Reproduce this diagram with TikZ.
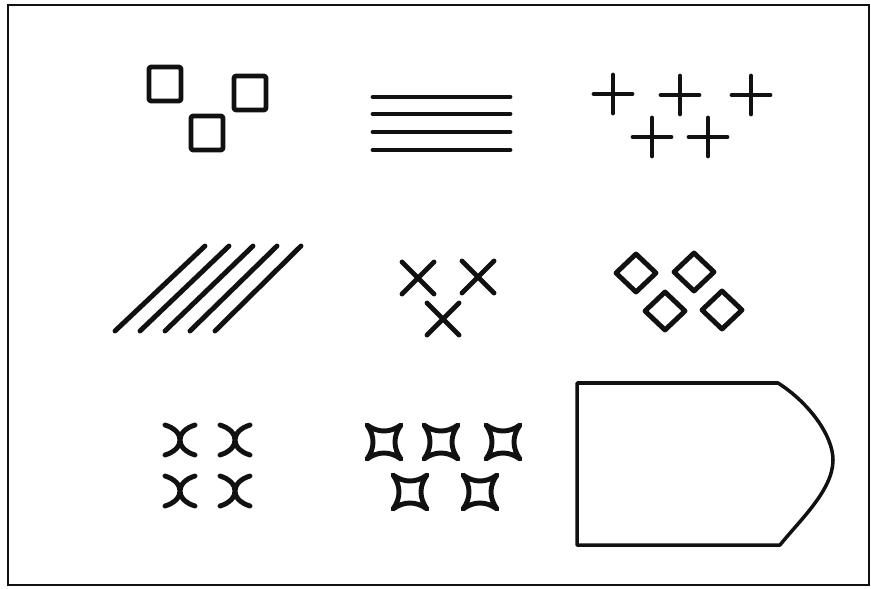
\documentclass[tikz,border=0pt]{standalone}
\usepackage{tikz}
\definecolor{ink}{HTML}{111111}
\tikzset{
  frameline/.style={draw=ink, line width=1.5pt},
  glyph/.style={draw=ink, line width=4.2pt, line cap=round, line join=round},
  outline/.style={draw=ink, line width=3pt, line join=round},
}
\begin{document}
\begin{tikzpicture}[x=0.03cm, y=-0.03cm]
  \useasboundingbox (0,0) rectangle (871,588);
  \draw[frameline] (8,5) rectangle (869,585);
  % top row
  \foreach \cx/\cy in {165/84, 250/93, 207/133}
    \draw[glyph, rounded corners=2pt] (\cx-16,\cy-17) rectangle (\cx+16,\cy+17);
  \foreach \y in {97,114,132,150}
    \draw[glyph] (373,\y) -- (510,\y);
  \foreach \cx/\cy in {613/94, 680/95, 751/95, 652/137, 708/137}
    \draw[glyph] (\cx-19,\cy) -- (\cx+19,\cy) (\cx,\cy-19) -- (\cx,\cy+19);
  % middle row
  \foreach \i in {0,...,4}
    \draw[glyph] ({115+25*\i},331) -- ({205+24*\i},246);
  \foreach \cx/\cy in {418/278, 478/277, 443/319}
    \draw[glyph] (\cx-16,\cy-16) -- (\cx+16,\cy+16) (\cx-16,\cy+16) -- (\cx+16,\cy-16);
  \foreach \cx/\cy in {636/273, 694/272, 665/311, 722/310}
    \draw[glyph] (\cx-20,\cy) -- (\cx,\cy-19) -- (\cx+20,\cy) -- (\cx,\cy+19) -- cycle;
  % bottom row
  \foreach \cx/\cy in {180/440, 235/440, 180/491, 235/491}
    \draw[glyph] (\cx-15,\cy-15) .. controls (\cx+5,\cy-9) and (\cx+5,\cy+9) .. (\cx-15,\cy+15)
                 (\cx+15,\cy-15) .. controls (\cx-5,\cy-9) and (\cx-5,\cy+9) .. (\cx+15,\cy+15);
  \foreach \cx/\cy in {384/442, 441/442, 503/442, 410/492, 480/492}
    \draw[glyph] (\cx-17,\cy-17) .. controls (\cx-6,\cy-9) and (\cx+6,\cy-9) .. (\cx+17,\cy-17)
                 .. controls (\cx+9,\cy-6) and (\cx+9,\cy+6) .. (\cx+17,\cy+17)
                 .. controls (\cx+6,\cy+9) and (\cx-6,\cy+9) .. (\cx-17,\cy+17)
                 .. controls (\cx-9,\cy+6) and (\cx-9,\cy-6) .. (\cx-17,\cy-17) -- cycle;
  \draw[outline] (577,383) -- (778,383) .. controls (808,402) and (833,435) .. (833,460)
    .. controls (833,490) and (800,520) .. (780,545) -- (577,545) -- cycle;
\end{tikzpicture}
\end{document}
